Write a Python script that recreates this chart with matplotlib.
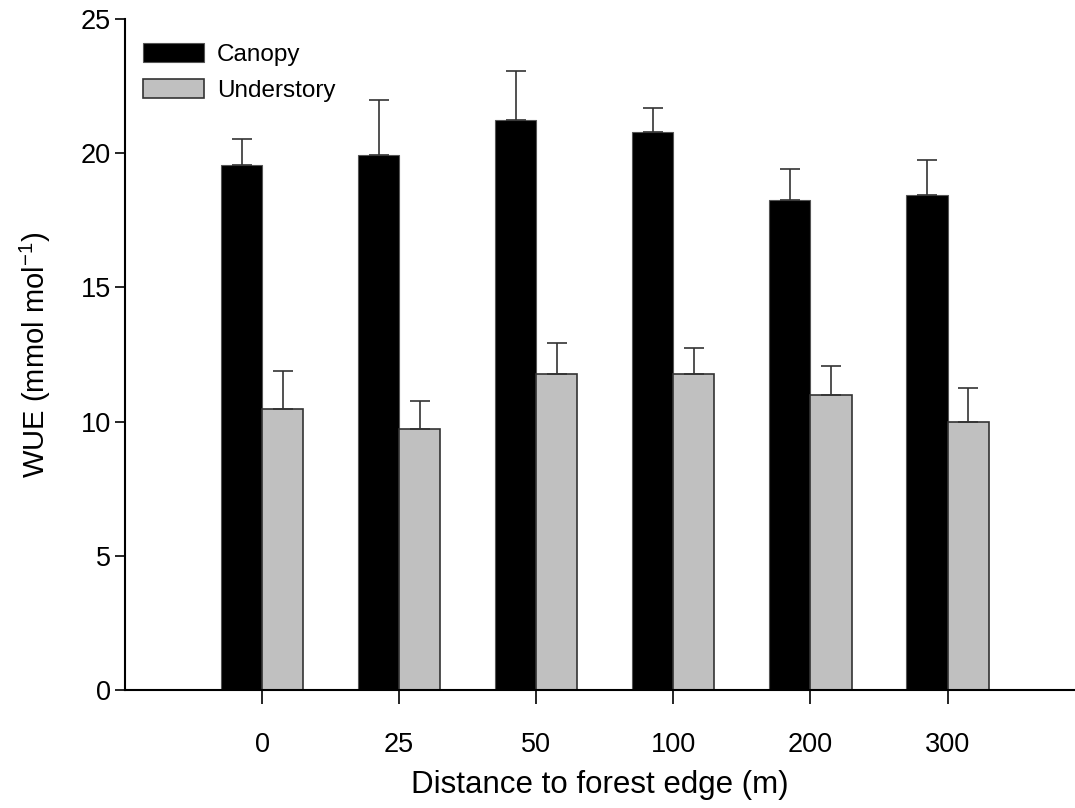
import numpy as np
import matplotlib.pyplot as plt

plt.rcParams['font.family'] = ['Liberation Sans', 'DejaVu Sans']

# WUE by distance to the forest edge
distances = ['0', '25', '50', '100', '200', '300']
canopy = [19.55, 19.93, 21.22, 20.80, 18.26, 18.44]
canopy_se = [0.97, 2.05, 1.85, 0.88, 1.14, 1.30]
understory = [10.47, 9.72, 11.79, 11.77, 11.00, 9.99]
understory_se = [1.43, 1.04, 1.13, 0.98, 1.08, 1.25]

x = np.arange(len(distances))
w = 0.3

fig = plt.figure(figsize=(10.75, 8.08), dpi=100)
ax = fig.add_axes([0.1163, 0.146, 0.8837, 0.8305])

err_kw = dict(ecolor='#333333', elinewidth=1.2, capsize=7.2, capthick=1.2)
ax.bar(x - w / 2, canopy, w, color='black', edgecolor='#555555', linewidth=0.8,
       yerr=[np.zeros(len(x)), canopy_se], error_kw=err_kw, label='Canopy')
ax.bar(x + w / 2, understory, w, color='#c0c0c0', edgecolor='#333333', linewidth=1.2,
       yerr=[np.zeros(len(x)), understory_se], error_kw=err_kw, label='Understory')

ax.set_xlim(-1.0, 5.93)
ax.set_ylim(0, 25)
ax.set_yticks([0, 5, 10, 15, 20, 25])
ax.set_xticks(x)
ax.set_xticklabels(distances)

for s in ['top', 'right']:
    ax.spines[s].set_visible(False)
for s in ['left', 'bottom']:
    ax.spines[s].set_linewidth(1.5)
ax.tick_params(axis='both', direction='out', width=1.2, labelsize=19.5)
ax.tick_params(axis='y', length=7, pad=3)
ax.tick_params(axis='x', length=10, pad=20)

ax.set_xlabel('Distance to forest edge (m)', fontsize=22.5, labelpad=9)
ax.set_ylabel('WUE (mmol mol$^{\\mathregular{-1}}$)', fontsize=21, labelpad=20)

ax.legend(loc='upper left', bbox_to_anchor=(0.019, 0.964), frameon=False,
          fontsize=17.5, handlelength=2.5, handleheight=0.8, handletextpad=0.55,
          labelspacing=0.55, borderpad=0, borderaxespad=0)

fig.savefig('out.png', dpi=100)
